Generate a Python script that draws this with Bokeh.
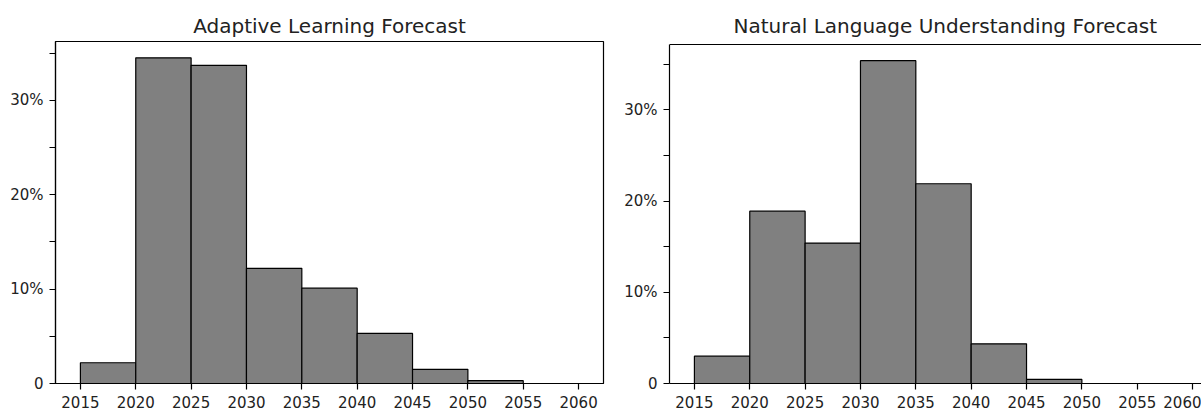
from bokeh.plotting import figure
from bokeh.layouts import row
from bokeh.models import Range1d, FixedTicker, Span, Title
from bokeh.embed import file_html
from bokeh.resources import INLINE

# Histogram bins (forecast year) and share of responses per bin, in percent
bin_edges = [2015, 2020, 2025, 2030, 2035, 2040, 2045, 2050, 2055, 2060]
adaptive_pct = [2.2, 34.5, 33.7, 12.2, 10.1, 5.3, 1.5, 0.3, 0.0]
nlu_pct = [3.0, 18.9, 15.4, 35.4, 21.9, 4.35, 0.45, 0.0, 0.0]

year_ticks = [2015, 2020, 2025, 2030, 2035, 2040, 2045, 2050, 2055, 2060]
pct_ticks = [0, 5, 10, 15, 20, 25, 30, 35]
pct_labels = {0: "0", 5: "", 10: "10%", 15: "", 20: "20%", 25: "", 30: "30%", 35: ""}

FONT = "DejaVu Sans"
TEXT = "#222222"
BAR_FILL = "#808080"
LW = 1.2

# 5% padding on each side of the bins
x_pad = 0.05 * (bin_edges[-1] - bin_edges[0])
x_start = bin_edges[0] - x_pad
x_full_end = bin_edges[-1] + x_pad

FRAME_H = 342  # 410 - top border 41 - bottom border 27


def style_axis(ax):
    ax.axis_line_color = "black"
    ax.axis_line_width = LW
    ax.major_tick_line_color = "black"
    ax.major_tick_line_width = LW
    ax.major_tick_out = 6
    ax.major_tick_in = 0
    ax.minor_tick_out = 0
    ax.minor_tick_in = 0
    ax.major_label_standoff = 6
    ax.major_label_text_font = FONT
    ax.major_label_text_font_size = "15px"
    ax.major_label_text_color = TEXT


def panel(title, values, width, border_left, border_right,
          frame_w, full_frame_w, title_offset, cut_right, top_gap):
    x_end = x_full_end
    if cut_right:
        # the panel runs past the page edge: show only the part that fits
        x_end = x_start + (x_full_end - x_start) * frame_w / full_frame_w
    y_top = max(values) * 1.05
    # the box top sits top_gap pixels below the frame edge
    y_end = y_top * FRAME_H / (FRAME_H - top_gap)
    p = figure(width=width, height=410, output_backend="svg",
               toolbar_location=None,
               x_range=Range1d(x_start, x_end),
               y_range=Range1d(0, y_end),
               min_border_left=border_left, min_border_right=border_right,
               min_border_top=41, min_border_bottom=27)
    p.quad(left=bin_edges[:-1], right=bin_edges[1:], bottom=0, top=values,
           fill_color=BAR_FILL, line_color="black", line_width=LW)
    p.grid.visible = False
    p.background_fill_color = "white"
    p.border_fill_color = "white"

    # small blank strip between the heading and the box
    p.add_layout(Title(text=" ", text_font_size="1px", standoff=0), "above")

    p.title.text = title
    p.title.text_font = FONT
    p.title.text_font_size = "20px"
    p.title.text_font_style = "normal"
    p.title.text_color = TEXT
    p.title.standoff = 2
    if title_offset is None:
        p.title.align = "center"
    else:
        p.title.align = "left"
        p.title.offset = title_offset

    p.xaxis.ticker = FixedTicker(ticks=year_ticks)
    p.yaxis.ticker = FixedTicker(ticks=pct_ticks)
    p.yaxis.major_label_overrides = pct_labels
    p.yaxis.bounds = (0, y_top)
    style_axis(p.xaxis[0])
    style_axis(p.yaxis[0])

    if cut_right:
        # open on the right: only the top edge of the box is drawn
        p.outline_line_color = None
        p.add_layout(Span(location=y_top, dimension="width",
                          line_color="black", line_width=LW))
    else:
        p.outline_line_color = "black"
        p.outline_line_width = LW
        p.outline_line_alpha = 1.0
    return p


left = panel("Adaptive Learning Forecast", adaptive_pct, 610,
             55, 7, 548, 548, None, False, 0)
right = panel("Natural Language Understanding Forecast", nlu_pct, 591,
              59, 0, 532, 548, 64, True, 3)

layout = row(left, right, spacing=0)
open("out.html", "w").write(file_html(layout, INLINE))
